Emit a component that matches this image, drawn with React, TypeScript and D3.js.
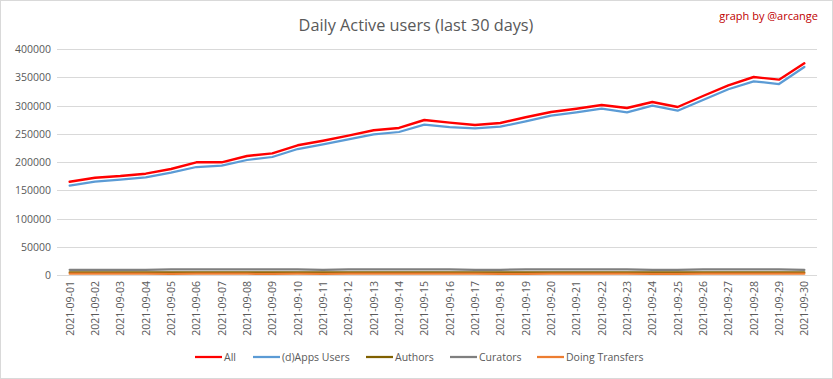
import React from "react";
import * as d3 from "d3";

const dates = Array.from({ length: 30 }, (_, i) => `2021-09-${String(i + 1).padStart(2, "0")}`);

const allUsers = [165400, 172500, 175500, 179600, 187900, 199700, 199700, 210900, 215600, 229800, 237900, 246800, 256300, 260400, 274500, 269800, 265700, 269200, 279300, 288600, 294500, 301000, 295700, 306300, 297500, 316900, 335800, 350500, 345800, 374700];
const appsUsers = [158400, 165400, 169000, 173200, 181400, 191400, 193700, 203800, 209100, 223200, 231500, 240400, 249200, 253300, 266200, 262100, 259800, 262700, 272200, 282100, 288100, 294500, 288100, 299800, 290900, 309800, 328800, 342900, 338100, 368200];
const authors = [5300, 5300, 5300, 5300, 5000, 5300, 5300, 5200, 5000, 5300, 5100, 5300, 5300, 5300, 5300, 5300, 5200, 5200, 5000, 5300, 5300, 5300, 5300, 5200, 5100, 5300, 5300, 5300, 5300, 5300];
const curators = [9800, 9800, 9800, 9800, 10600, 10600, 10600, 10600, 10600, 10600, 9600, 10600, 10600, 10600, 10600, 10600, 9800, 9800, 10600, 10600, 10600, 10600, 10600, 9800, 9800, 10600, 10600, 10600, 10600, 9600];
const transfers = [2800, 2800, 2800, 2800, 2500, 2800, 2800, 2800, 2500, 2800, 2600, 2800, 2800, 2800, 2800, 2800, 2800, 2700, 2500, 2800, 2800, 2800, 2800, 2700, 2600, 2800, 2800, 2800, 2800, 2800];

const yTicks = [0, 50000, 100000, 150000, 200000, 250000, 300000, 350000, 400000];

const seriesNames = ["All", "(d)Apps Users", "Authors", "Curators", "Doing Transfers"];
const seriesColors = ["#ff0000", "#5b9bd5", "#806000", "#7f7f7f", "#ed7d31"];
const seriesValues = [allUsers, appsUsers, authors, curators, transfers];
const seriesWidths = [2.4, 2.25, 2.25, 2.25, 2.25];

const W = 833;
const H = 379;
const left = 57;
const right = 817;
const top = 49;
const bottom = 275.3;

export default function App() {
  const x = d3.scaleBand<string>().domain(dates).range([left, right]);
  const y = d3.scaleLinear().domain([0, 400000]).range([bottom, top]);
  const line = (vals: number[]) =>
    d3
      .line<number>()
      .x((_, i) => (x(dates[i]) as number) + x.bandwidth() / 2)
      .y((v) => y(v))(vals) as string;

  const drawOrder = [3, 2, 4, 1, 0];
  const legendX = [195, 253, 366, 450, 537];
  const font = "'Open Sans', 'Liberation Sans', sans-serif";

  return (
    <svg
      width={W}
      height={H}
      style={{ position: "absolute", left: 0, top: 0, background: "#fff" }}
      fontFamily={font}
    >
      <rect x={0.5} y={0.5} width={W - 1} height={H - 1} fill="#fff" stroke="#d9d9d9" />
      <text x={416} y={31} textAnchor="middle" fontSize={16.3} fill="#595959">
        Daily Active users (last 30 days)
      </text>
      <text x={818} y={20} textAnchor="end" fontSize={11} fill="#c00000">
        graph by @arcange
      </text>
      {yTicks.map((t) => (
        <g key={t}>
          <line x1={left} x2={right} y1={Math.round(y(t)) + 0.5} y2={Math.round(y(t)) + 0.5} stroke="#d9d9d9" strokeWidth={1} />
          <text x={51} y={y(t) + 4} textAnchor="end" fontSize={10.5} fill="#595959">
            {t}
          </text>
        </g>
      ))}
      {dates.map((d) => {
        const cx = (x(d) as number) + x.bandwidth() / 2;
        return (
          <text
            key={d}
            transform={`translate(${cx + 4},${281}) rotate(-90)`}
            textAnchor="end"
            fontSize={10.5}
            fill="#595959"
          >
            {d}
          </text>
        );
      })}
      {drawOrder.map((k) => (
        <path
          key={k}
          d={line(seriesValues[k])}
          fill="none"
          stroke={seriesColors[k]}
          strokeWidth={seriesWidths[k]}
          strokeLinejoin="round"
          strokeLinecap="round"
        />
      ))}
      {seriesNames.map((n, k) => (
        <g key={n}>
          <line x1={legendX[k]} x2={legendX[k] + 27} y1={357} y2={357} stroke={seriesColors[k]} strokeWidth={2.25} />
          <text x={legendX[k] + 29} y={361} fontSize={10.5} fill="#595959">
            {n}
          </text>
        </g>
      ))}
    </svg>
  );
}
